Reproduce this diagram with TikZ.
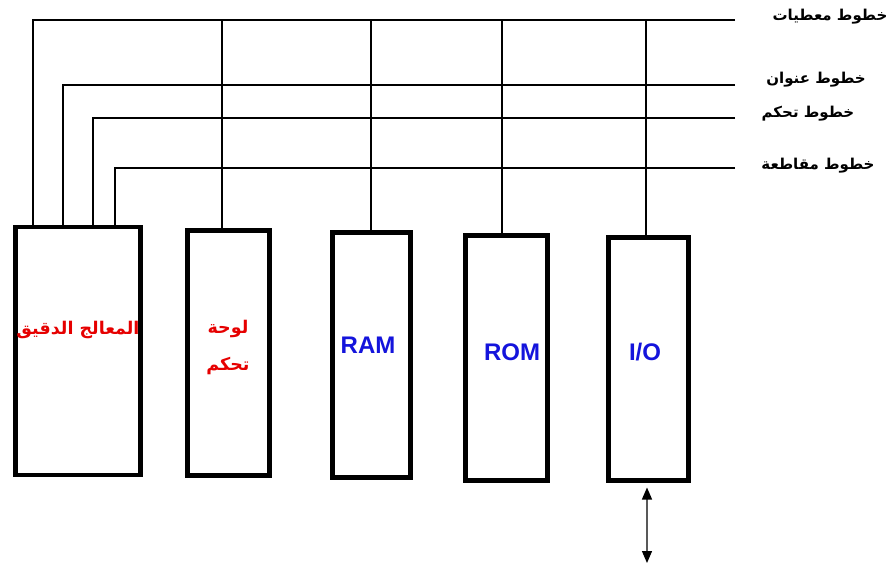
\documentclass[tikz,border=0pt]{standalone}
\usepackage{fontspec}
\setmainfont{Liberation Sans}
\newfontfamily\arabicfont[Script=Arabic]{DejaVu Sans}
\TeXXeTstate=1
\usetikzlibrary{arrows.meta}
\definecolor{unitred}{RGB}{230,0,0}
\definecolor{unitblue}{RGB}{20,20,220}
\begin{document}
\begin{tikzpicture}[x=1pt,y=-1pt,
  bus/.style={line width=2pt},
  unit/.style={draw, line width=4.5pt, inner sep=0pt, outer sep=0pt},
  buslabel/.style={inner sep=0pt, font=\arabicfont\bfseries\fontsize{15}{17}\selectfont},
  artext/.style={text=unitred, inner sep=0pt, align=center, font=\arabicfont\bfseries\fontsize{17.5}{37}\selectfont},
  latext/.style={text=unitblue, inner sep=0pt, font=\bfseries\fontsize{24}{28}\selectfont},
  ioarrow/.style={draw=gray!70!black, line width=1.3pt, {Triangle[black,length=12pt,width=10pt]}-{Triangle[black,length=12pt,width=10pt]}}
]
\useasboundingbox (0,0) rectangle (892,566);
\fill[white] (0,0) rectangle (892,566);

% units
\node[unit, minimum width=125pt, minimum height=248pt] (cpu) at (78,351) {};
\node[unit, minimum width=82pt, minimum height=245pt] (board) at (228.5,353) {};
\node[unit, minimum width=78pt, minimum height=245pt] (ram) at (371.5,355) {};
\node[unit, minimum width=82pt, minimum height=245pt] (rom) at (506.5,358) {};
\node[unit, minimum width=80pt, minimum height=243pt] (io) at (648.5,359) {};

% texts in units
\node[artext] (cputext) at (78,330) {\beginR المعالج الدقيق\endR};
\node[artext] (boardtext) at (228,347) {\beginR لوحة\endR\\\beginR تحكم\endR};
\node[latext] (ramtext) at (368,345) {RAM};
\node[latext] (romtext) at (512,352) {ROM};
\node[latext] (iotext) at (645,352) {I/O};

% bus ends
\coordinate (dataL) at (33,20);   \coordinate (dataR) at (735,20);
\coordinate (addrL) at (63,85);   \coordinate (addrR) at (735,85);
\coordinate (ctrlL) at (93,118);  \coordinate (ctrlR) at (735,118);
\coordinate (intL) at (115,168);  \coordinate (intR) at (735,168);

% bus lines from processor
\draw[bus] (dataR) -- (dataL) -- (dataL |- cpu.north);
\draw[bus] (addrR) -- (addrL) -- (addrL |- cpu.north);
\draw[bus] (ctrlR) -- (ctrlL) -- (ctrlL |- cpu.north);
\draw[bus] (intR) -- (intL) -- (intL |- cpu.north);

% drops to other units
\draw[bus] (board.north -| 222,0) -- (222,20);
\draw[bus] (ram.north -| 371,0) -- (371,20);
\draw[bus] (rom.north -| 502,0) -- (502,20);
\draw[bus] (io.north -| 646,0) -- (646,20);

% bus labels
\node[buslabel] (datalab) at (830,17) {\beginR خطوط معطيات\endR};
\node[buslabel] (addrlab) at (816,80) {\beginR خطوط عنوان\endR};
\node[buslabel] (ctrllab) at (808,114) {\beginR خطوط تحكم\endR};
\node[buslabel] (intlab) at (818,166) {\beginR خطوط مقاطعة\endR};

% I/O port arrow
\coordinate (ioend) at (647,563);
\draw[ioarrow] ([yshift=-7pt]io.south -| ioend) -- (ioend);
\end{tikzpicture}
\end{document}
